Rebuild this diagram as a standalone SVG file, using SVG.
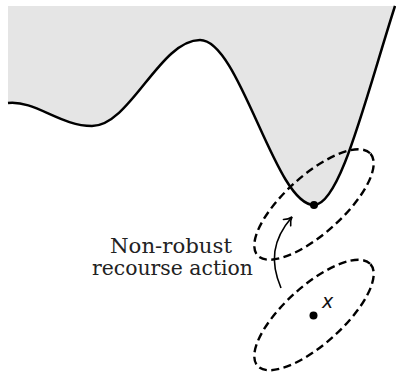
<svg xmlns="http://www.w3.org/2000/svg" width="396" height="374" viewBox="0 0 396 374">
  <style>
    .region { fill: #e5e5e5; stroke: none; }
    .curve { fill: none; stroke: #000; stroke-width: 2.5; stroke-linejoin: round; }
    .ball { fill: none; stroke: #000; stroke-width: 2.4; stroke-dasharray: 8 4.5; }
    .dot { fill: #000; }
    .arrow { fill: none; stroke: #000; stroke-width: 1.6; }
    .label { font-family: "DejaVu Serif", "Liberation Serif", serif; font-size: 21px; fill: #222; text-anchor: middle; }
    .var { font-family: "DejaVu Sans", "Liberation Sans", sans-serif; font-size: 19px; font-style: italic; fill: #111; }
  </style>
  <defs>
    <marker id="head" markerUnits="userSpaceOnUse" markerWidth="20" markerHeight="20" viewBox="-10 -10 20 20" refX="0" refY="0" orient="auto" overflow="visible">
      <path d="M-7.5,-4.8 C-5,-2 -2,-0.5 0,0 C-2,0.5 -5,2 -7.5,4.8" fill="none" stroke="#000" stroke-width="1.6" stroke-linecap="round"/>
    </marker>
  </defs>

  <g id="feasible-region">
    <path class="region" d="M8,6 L8,103 C35,100 60,126 92,126 C130,126 160,40 200,40 C240,40 275,205 314,205 C340,205 365,100 395,6 Z"/>
  </g>

  <g id="ball-recourse">
    <ellipse class="ball" cx="314" cy="204.5" rx="76" ry="29" transform="rotate(-42 314 204.5)"/>
  </g>

  <g id="ball-x">
    <ellipse class="ball" cx="314" cy="315" rx="76" ry="29" transform="rotate(-42 314 315)"/>
  </g>

  <g id="boundary">
    <path class="curve" d="M8,103 C35,100 60,126 92,126 C130,126 160,40 200,40 C240,40 275,205 314,205 C340,205 365,100 395,6"/>
  </g>

  <g id="point-recourse">
    <circle class="dot" cx="314" cy="205" r="4"/>
  </g>

  <g id="point-x">
    <circle class="dot" cx="313.5" cy="315.5" r="4"/>
    <text class="var" x="322" y="308">x</text>
  </g>

  <g id="connectors">
    <path class="arrow" d="M281,288 C270,262 272,240 292,217" marker-end="url(#head)"/>
  </g>

  <g id="label">
    <text class="label" x="171" y="253" textLength="122" lengthAdjust="spacingAndGlyphs">Non-robust</text>
    <text class="label" x="172.5" y="275" textLength="161" lengthAdjust="spacingAndGlyphs">recourse action</text>
  </g>
</svg>
